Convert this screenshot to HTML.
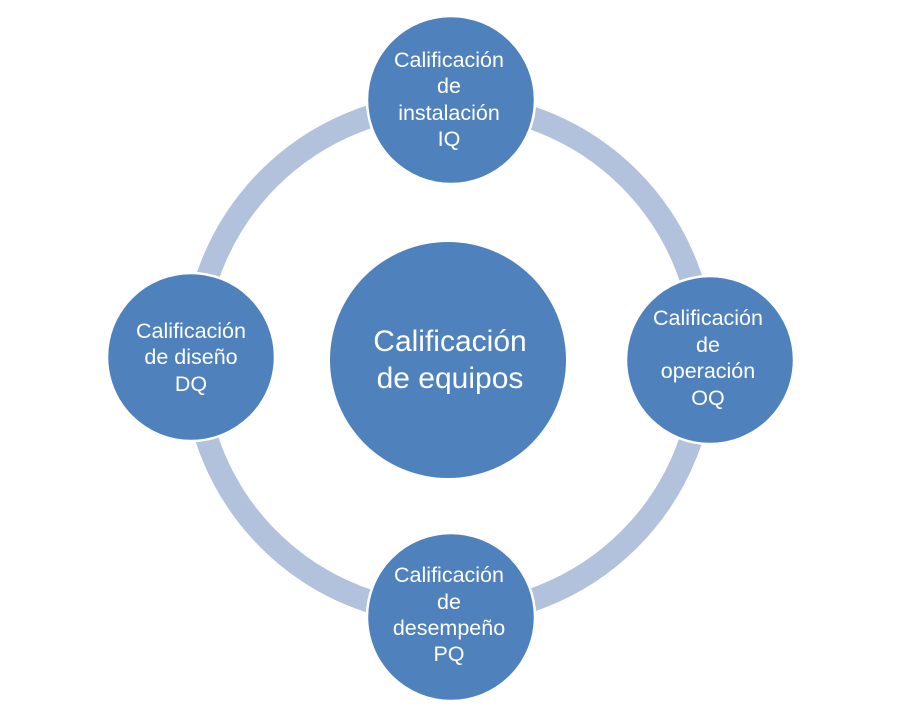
<!DOCTYPE html>
<html><head><meta charset="utf-8"><style>
html,body{margin:0;padding:0;background:#fff;}
svg{display:block;}
text{font-family:"Liberation Sans",sans-serif;fill:#fff;}
</style></head><body>
<svg width="904" height="706" viewBox="0 0 904 706" xmlns="http://www.w3.org/2000/svg">
<rect width="904" height="706" fill="#fff"/>
<circle cx="449" cy="359" r="255" fill="none" stroke="#b3c2dc" stroke-width="23"/>
<circle cx="448" cy="360" r="118" fill="#4f81bd"/>
<g fill="#4f81bd" stroke="#fff" stroke-width="2.5">
<circle cx="451" cy="100" r="84"/>
<circle cx="191" cy="357" r="84"/>
<circle cx="710" cy="360" r="84"/>
<circle cx="451" cy="617" r="84"/>
</g>
<g font-size="30" text-anchor="middle">
<text x="450" y="351">Calificación</text>
<text x="450" y="388">de equipos</text>
</g>
<g font-size="21.5" text-anchor="middle">
<text x="449" y="67">Calificación</text>
<text x="449" y="93">de</text>
<text x="449" y="120">instalación</text>
<text x="449" y="146">IQ</text>

<text x="191" y="338">Calificación</text>
<text x="191" y="364">de diseño</text>
<text x="191" y="391">DQ</text>

<text x="708" y="325">Calificación</text>
<text x="708" y="352">de</text>
<text x="708" y="378">operación</text>
<text x="708" y="405">OQ</text>

<text x="449" y="582">Calificación</text>
<text x="449" y="609">de</text>
<text x="449" y="635">desempeño</text>
<text x="449" y="661">PQ</text>
</g>
</svg>
</body></html>
